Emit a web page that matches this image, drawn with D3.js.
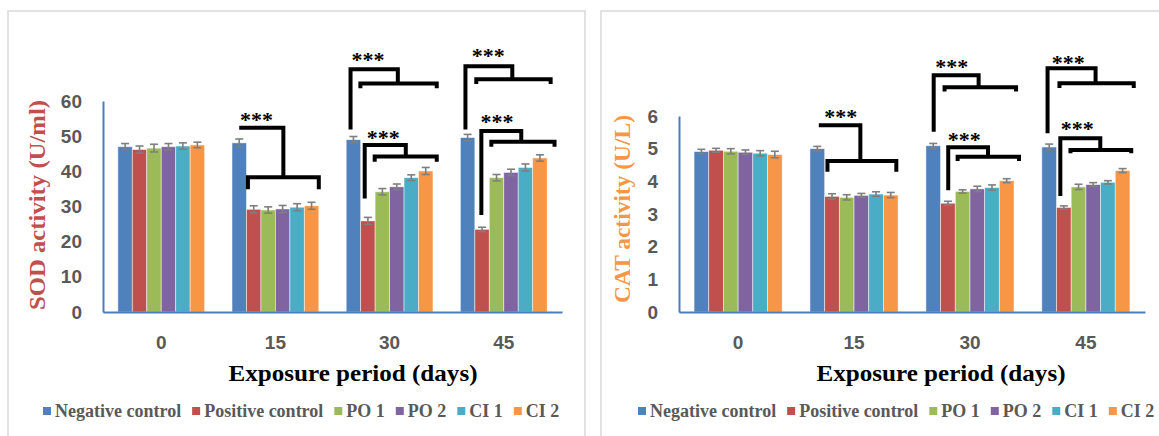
<!DOCTYPE html>
<html>
<head>
<meta charset="utf-8">
<script src="https://cdn.jsdelivr.net/npm/d3@7"></script>
<style>
body { margin: 0; background: #fff; }
text { font-family: "Liberation Serif", "Times New Roman", serif; }
.tick text { font-family: "Liberation Sans", Arial, sans-serif; font-weight: bold; font-size: 19px; fill: #595959; }
</style>
</head>
<body>
<script>
//Categories (exposure days) and treatment groups
var days = ["0", "15", "30", "45"];
var groups = ["Negative control", "Positive control", "PO 1", "PO 2", "CI 1", "CI 2"];
var groupColors = ["#4F81BD", "#C0504D", "#9BBB59", "#8064A2", "#4BACC6", "#F79646"];

//SOD activity (U/ml), one row per day, one value per group
var sodValues = [
  [47.0, 46.2, 46.6, 47.0, 47.2, 47.5],
  [48.1, 29.2, 29.0, 29.3, 29.8, 30.2],
  [49.0, 25.9, 34.2, 35.6, 38.2, 40.1],
  [49.6, 23.5, 38.2, 39.7, 41.1, 43.8]
];
var sodErrors = [
  [0.9, 1.0, 1.1, 0.9, 0.9, 0.8],
  [1.1, 1.0, 0.9, 1.0, 1.0, 1.0],
  [0.9, 1.0, 0.9, 0.8, 0.8, 1.0],
  [0.9, 0.6, 0.9, 0.9, 1.0, 0.9]
];

//CAT activity (U/L)
var catValues = [
  [4.91, 4.95, 4.92, 4.89, 4.86, 4.82],
  [5.00, 3.54, 3.51, 3.57, 3.61, 3.58],
  [5.09, 3.33, 3.69, 3.77, 3.81, 4.02],
  [5.05, 3.20, 3.83, 3.90, 3.97, 4.33]
];
var catErrors = [
  [0.07, 0.06, 0.08, 0.07, 0.08, 0.10],
  [0.07, 0.08, 0.08, 0.06, 0.07, 0.08],
  [0.07, 0.06, 0.05, 0.08, 0.08, 0.06],
  [0.09, 0.05, 0.08, 0.06, 0.05, 0.06]
];

var sodTicks = [0, 10, 20, 30, 40, 50, 60];
var catTicks = [0, 1, 2, 3, 4, 5, 6];

//Significance brackets: x in bar units inside the day group, y in data units
var sodBrackets = [
  {day: "15", vx: 0.5, vb: null, top: 52.4, stem: 3.55, low: 38.3, lo0: 1.1, lo1: 6.0, tick: 34.9, tx: 1.69, ty: 55.5},
  {day: "30", vx: 0.3, vb: 51.9, top: 69.0, stem: 3.57, low: 65.0, lo0: 0.98, lo1: 6.26, tick: 63.6, tx: 1.5, ty: 72.8},
  {day: "30", vx: 1.28, vb: 32.3, top: 47.5, stem: 4.12, low: 44.2, lo0: 1.97, lo1: 6.26, tick: 42.7, tx: 2.57, ty: 50.6},
  {day: "45", vx: 0.35, vb: 51.9, top: 69.9, stem: 3.59, low: 66.2, lo0: 1.1, lo1: 6.24, tick: 64.8, tx: 1.93, ty: 73.7},
  {day: "45", vx: 1.45, vb: 27.6, top: 51.5, stem: 4.21, low: 48.4, lo0: 2.14, lo1: 6.51, tick: 47.0, tx: 2.53, ty: 55.1}
];
var catBrackets = [
  {day: "15", vx: 0.6, vb: null, top: 5.72, stem: 3.43, low: 4.62, lo0: 1.19, lo1: 5.88, tick: 4.29, tx: 2.1, ty: 6.08},
  {day: "30", vx: 0.53, vb: 5.52, top: 7.25, stem: 3.59, low: 6.88, lo0: 1.27, lo1: 6.14, tick: 6.75, tx: 1.76, ty: 7.61},
  {day: "30", vx: 1.52, vb: 3.73, top: 5.04, stem: 4.23, low: 4.75, lo0: 2.16, lo1: 6.34, tick: 4.62, tx: 2.61, ty: 5.37},
  {day: "45", vx: 0.39, vb: 5.47, top: 7.46, stem: 3.66, low: 7.0, lo0: 1.2, lo1: 6.26, tick: 6.86, tx: 1.8, ty: 7.73},
  {day: "45", vx: 1.26, vb: 3.55, top: 5.32, stem: 3.98, low: 4.96, lo0: 1.95, lo1: 6.09, tick: 4.86, tx: 2.41, ty: 5.72}
];

//Page dimensions
var width = 1159,
    height = 436;

var svg = d3.select("body").append("svg")
    .attr("width", width)
    .attr("height", height);

svg.append("rect")
    .attr("width", width)
    .attr("height", height)
    .attr("fill", "#fff");

//Panel frames
svg.append("rect")
    .attr("x", 8).attr("y", 11)
    .attr("width", 577).attr("height", 440)
    .attr("fill", "none").attr("stroke", "#d9d9d9").attr("stroke-width", 1.5);
svg.append("rect")
    .attr("x", 601).attr("y", 11)
    .attr("width", 570).attr("height", 440)
    .attr("fill", "none").attr("stroke", "#d9d9d9").attr("stroke-width", 1.5);

drawPanel({
  x0: 103, x1: 562, yTop: 101, yBase: 312, yMax: 60,
  values: sodValues, errors: sodErrors, ticks: sodTicks, brackets: sodBrackets,
  title: "SOD activity (U/ml)", titleColor: "#C0504D", titleX: 45, titleY: 205, titleLen: 210,
  xTitleX: 353, xTitleLen: 249, legendX: 43
});

drawPanel({
  x0: 679, x1: 1145, yTop: 116, yBase: 312, yMax: 6,
  values: catValues, errors: catErrors, ticks: catTicks, brackets: catBrackets,
  title: "CAT activity (U/L)", titleColor: "#F79646", titleX: 630, titleY: 209, titleLen: 188,
  xTitleX: 941, xTitleLen: 249, legendX: 638
});

function drawPanel(p) {
  var g = svg.append("g");

  var x = d3.scaleBand()
      .domain(days)
      .range([p.x0, p.x1])
      .paddingInner(0.24)
      .paddingOuter(0.13);

  var xInner = d3.scaleBand()
      .domain(groups)
      .range([0, x.bandwidth()]);

  var y = d3.scaleLinear()
      .domain([0, p.yMax])
      .range([p.yBase, p.yTop]);

  //y axis
  var yAxis = g.append("g")
      .attr("transform", "translate(" + p.x0 + ",0)")
      .call(d3.axisLeft(y).tickValues(p.ticks).tickFormat(d3.format("d"))
        .tickSize(0).tickSizeOuter(0).tickPadding(21));
  yAxis.select(".domain").attr("stroke", "#4a7ebb").attr("stroke-width", 2);

  //bars
  var dayGroups = g.selectAll(".day")
    .data(days)
    .enter()
    .append("g")
    .attr("class", "day")
    .attr("transform", function(d) { return "translate(" + x(d) + ",0)"; });

  dayGroups.selectAll("rect")
    .data(function(d, i) {
      return groups.map(function(gr, j) {
        return {group: gr, value: p.values[i][j], err: p.errors[i][j], color: groupColors[j]};
      });
    })
    .enter()
    .append("rect")
    .attr("x", function(d) { return xInner(d.group); })
    .attr("y", function(d) { return y(d.value); })
    .attr("width", xInner.bandwidth())
    .attr("height", function(d) { return y(0) - y(d.value); })
    .attr("fill", function(d) { return d.color; })
    .attr("stroke", "rgba(255,255,255,0.6)")
    .attr("stroke-width", 0.8);

  //error bars
  var errG = dayGroups.selectAll(".err")
    .data(function(d, i) {
      return groups.map(function(gr, j) {
        return {group: gr, value: p.values[i][j], err: p.errors[i][j]};
      });
    })
    .enter()
    .append("g")
    .attr("class", "err")
    .attr("stroke", "#7f7f7f")
    .attr("stroke-width", 1.6);

  errG.append("line")
    .attr("x1", function(d) { return xInner(d.group) + xInner.bandwidth() / 2; })
    .attr("x2", function(d) { return xInner(d.group) + xInner.bandwidth() / 2; })
    .attr("y1", function(d) { return y(d.value - d.err); })
    .attr("y2", function(d) { return y(d.value + d.err); });
  [-1, 1].forEach(function(s) {
    errG.append("line")
      .attr("x1", function(d) { return xInner(d.group) + xInner.bandwidth() / 2 - 4; })
      .attr("x2", function(d) { return xInner(d.group) + xInner.bandwidth() / 2 + 4; })
      .attr("y1", function(d) { return y(d.value + s * d.err); })
      .attr("y2", function(d) { return y(d.value + s * d.err); });
  });

  //x axis (drawn after bars so the baseline sits on top)
  var xAxis = g.append("g")
    .attr("transform", "translate(0," + p.yBase + ")")
    .call(d3.axisBottom(x).tickSize(0).tickSizeOuter(0).tickPadding(24));
  xAxis.select(".domain").attr("stroke", "#4a7ebb").attr("stroke-width", 2);

  //significance brackets
  var step = xInner.step();
  p.brackets.forEach(function(b) {
    var gx = x(b.day);
    var bx = function(u) { return gx + u * step; };
    var top = d3.path();
    if (b.vb !== null) {
      top.moveTo(bx(b.vx), y(b.vb));
      top.lineTo(bx(b.vx), y(b.top));
    } else {
      top.moveTo(bx(b.vx), y(b.top));
    }
    top.lineTo(bx(b.stem), y(b.top));
    top.lineTo(bx(b.stem), y(b.low));
    top.moveTo(bx(b.lo0), y(b.tick));
    top.lineTo(bx(b.lo0), y(b.low));
    top.lineTo(bx(b.lo1), y(b.low));
    top.lineTo(bx(b.lo1), y(b.tick));

    g.append("path")
      .attr("d", top.toString())
      .attr("fill", "none")
      .attr("stroke", "#000")
      .attr("stroke-width", 4)
      .attr("stroke-linejoin", "miter");

    g.append("text")
      .attr("x", bx(b.tx))
      .attr("y", y(b.ty))
      .attr("dy", "0.48em")
      .attr("text-anchor", "middle")
      .attr("font-weight", "bold")
      .attr("font-size", "22px")
      .attr("fill", "#000")
      .text("***");
  });

  //y axis title
  g.append("text")
    .attr("transform", "translate(" + p.titleX + "," + p.titleY + ") rotate(-90)")
    .attr("text-anchor", "middle")
    .attr("font-weight", "bold")
    .attr("font-size", "24px")
    .attr("fill", p.titleColor)
    .attr("textLength", p.titleLen)
    .attr("lengthAdjust", "spacingAndGlyphs")
    .text(p.title);

  //x axis title
  g.append("text")
    .attr("x", p.xTitleX)
    .attr("y", 381)
    .attr("text-anchor", "middle")
    .attr("font-weight", "bold")
    .attr("font-size", "23px")
    .attr("fill", "#000")
    .attr("textLength", p.xTitleLen)
    .attr("lengthAdjust", "spacingAndGlyphs")
    .text("Exposure period (days)");

  //legend
  var lx = p.legendX;
  groups.forEach(function(gr, j) {
    g.append("rect")
      .attr("x", lx).attr("y", 407)
      .attr("width", 8).attr("height", 8)
      .attr("fill", groupColors[j]);
    var t = g.append("text")
      .attr("x", lx + 12)
      .attr("y", 417)
      .attr("font-weight", "bold")
      .attr("font-size", "18px")
      .attr("fill", "#595959")
      .text(gr);
    lx += 12 + t.node().getComputedTextLength() + 11;
  });
}
</script>
</body>
</html>
